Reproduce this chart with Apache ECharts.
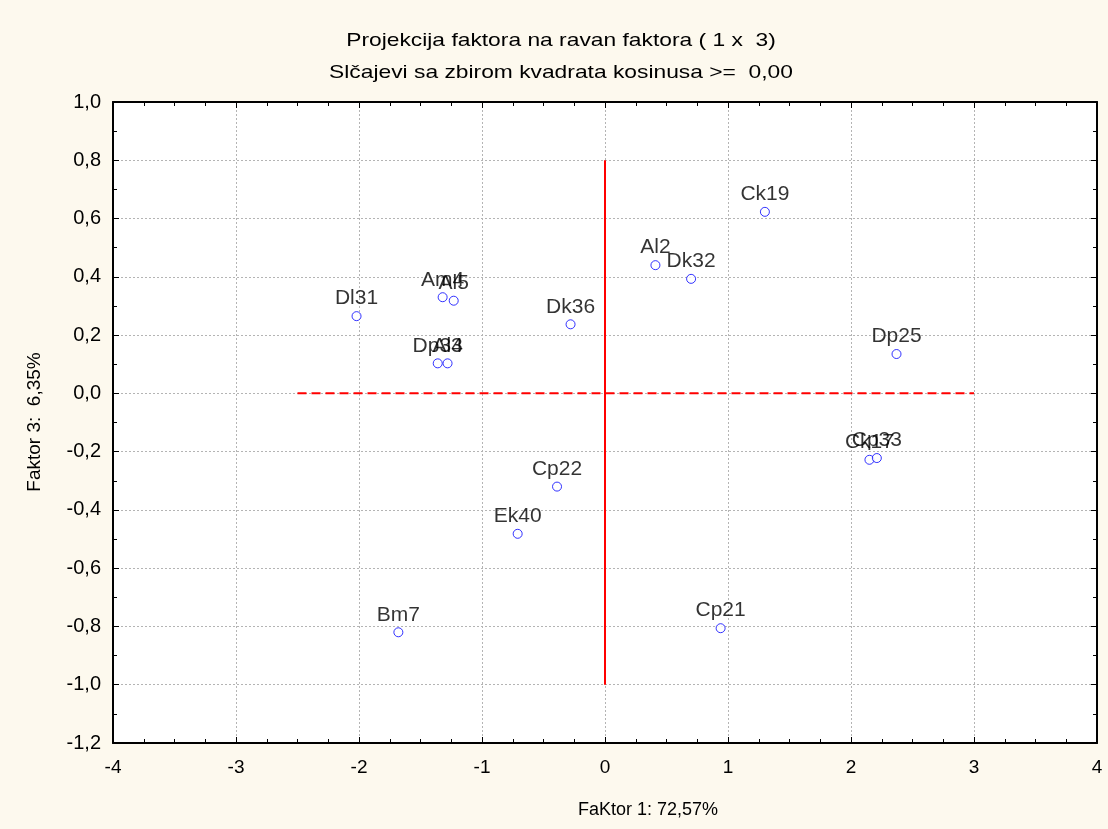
<!DOCTYPE html>
<html>
<head>
<meta charset="utf-8">
<script src="https://cdn.jsdelivr.net/npm/echarts@6/dist/echarts.min.js"></script>
<style>
  html, body { margin: 0; padding: 0; background: #fdf9ee; }
  #chart { width: 1108px; height: 829px; }
</style>
</head>
<body>
<div id="chart"></div>
<script>
// Case labels and their factor scores (Faktor 1, Faktor 3)
const caseNames = ['Dl31', 'Am4', 'Al5', 'Dp34', 'Al3', 'Dk36', 'Al2', 'Dk32', 'Ck19', 'Dp25',
                   'Ck17', 'Cp33', 'Cp22', 'Ek40', 'Bm7', 'Cp21'];
const factor1 = [-2.02, -1.32, -1.23, -1.36, -1.28, -0.28, 0.41, 0.70, 1.30, 2.37,
                 2.15, 2.21, -0.39, -0.71, -1.68, 0.94];
const factor3 = [0.265, 0.33, 0.318, 0.103, 0.103, 0.237, 0.44, 0.393, 0.623, 0.135,
                 -0.228, -0.222, -0.32, -0.482, -0.82, -0.806];

// Reference cross lines
const vLineX = [0, 0];
const vLineY = [0.8, -1.0];
const hLineX = [-2.5, 3];
const hLineY = [0, 0];

const titleText = 'Projekcija faktora na ravan faktora ( 1 x  3)';
const subtitleText = 'Slčajevi sa zbirom kvadrata kosinusa >=  0,00';
const xName = 'FaKtor 1: 72,57%';
const yName = 'Faktor 3:  6,35%';

const font = '"Liberation Sans", Arial, sans-serif';

const points = caseNames.map((n, i) => ({ name: n, value: [factor1[i], factor3[i]] }));

const boxAxis = (extra) => Object.assign({
  type: 'value',
  axisLine: { show: true, onZero: false, lineStyle: { color: '#000', width: 2 } },
  axisTick: { show: true, inside: true, length: 6, lineStyle: { color: '#000' } },
  splitLine: { show: false }
}, extra);

const gridLine = { show: true, lineStyle: { color: '#b4b4b4', type: [2, 2], width: 1 } };

const chart = echarts.init(document.getElementById('chart'));
chart.setOption({
  backgroundColor: '#fdf9ee',
  animation: false,
  textStyle: { fontFamily: font },
  grid: { left: 113, right: 11, top: 102, bottom: 86, backgroundColor: '#ffffff', show: true, borderWidth: 0 },
  xAxis: [
    boxAxis({
      min: -4, max: 4, interval: 1, position: 'bottom',
      minorTick: { show: true, splitNumber: 4, length: 4, lineStyle: { color: '#000' } },
      axisLabel: { color: '#000', fontSize: 19, margin: 15 },
      splitLine: gridLine
    }),
    boxAxis({
      min: -4, max: 4, interval: 1, position: 'top',
      minorTick: { show: true, splitNumber: 4, length: 4, lineStyle: { color: '#000' } },
      axisLabel: { show: false }
    })
  ],
  yAxis: [
    boxAxis({
      min: -1.2, max: 1.0, interval: 0.2, position: 'left',
      minorTick: { show: true, splitNumber: 2, length: 4, lineStyle: { color: '#000' } },
      axisLabel: { color: '#000', fontSize: 20, margin: 12,
        formatter: v => v.toFixed(1).replace('.', ',').replace('-0,0', '0,0') },
      splitLine: gridLine
    }),
    boxAxis({
      min: -1.2, max: 1.0, interval: 0.2, position: 'right',
      minorTick: { show: true, splitNumber: 2, length: 4, lineStyle: { color: '#000' } },
      axisLabel: { show: false }
    })
  ],
  graphic: [
    { type: 'text', x: 561, y: 41, scaleX: 1.2,
      style: { text: titleText, font: '19px ' + font, fill: '#000', align: 'center', verticalAlign: 'middle' } },
    { type: 'text', x: 561, y: 73, scaleX: 1.2,
      style: { text: subtitleText, font: '19px ' + font, fill: '#000', align: 'center', verticalAlign: 'middle' } },
    { type: 'text', x: 648, y: 810,
      style: { text: xName, font: '18px ' + font, fill: '#000', align: 'center', verticalAlign: 'middle' } },
    { type: 'text', x: 35, y: 422, rotation: Math.PI / 2,
      style: { text: yName, font: '19px ' + font, fill: '#000', align: 'center', verticalAlign: 'middle' } }
  ],
  series: [
    {
      type: 'line', data: vLineX.map((x, i) => [x, vLineY[i]]), symbol: 'none',
      lineStyle: { color: '#ff0000', width: 2 }, z: 3, silent: true
    },
    {
      type: 'line', data: hLineX.map((x, i) => [x, hLineY[i]]), symbol: 'none',
      lineStyle: { color: '#ff0000', width: 2, type: [9, 5] }, z: 3, silent: true
    },
    {
      type: 'scatter', data: points, symbol: 'circle', symbolSize: 9, z: 5,
      itemStyle: { color: '#ffffff', borderColor: '#0000ff', borderWidth: 1 },
      label: { show: true, position: 'top', distance: 2, formatter: p => p.name,
        color: '#000', fontSize: 21, fontFamily: font },
      labelLayout: { hideOverlap: false }
    }
  ]
});
</script>
</body>
</html>
